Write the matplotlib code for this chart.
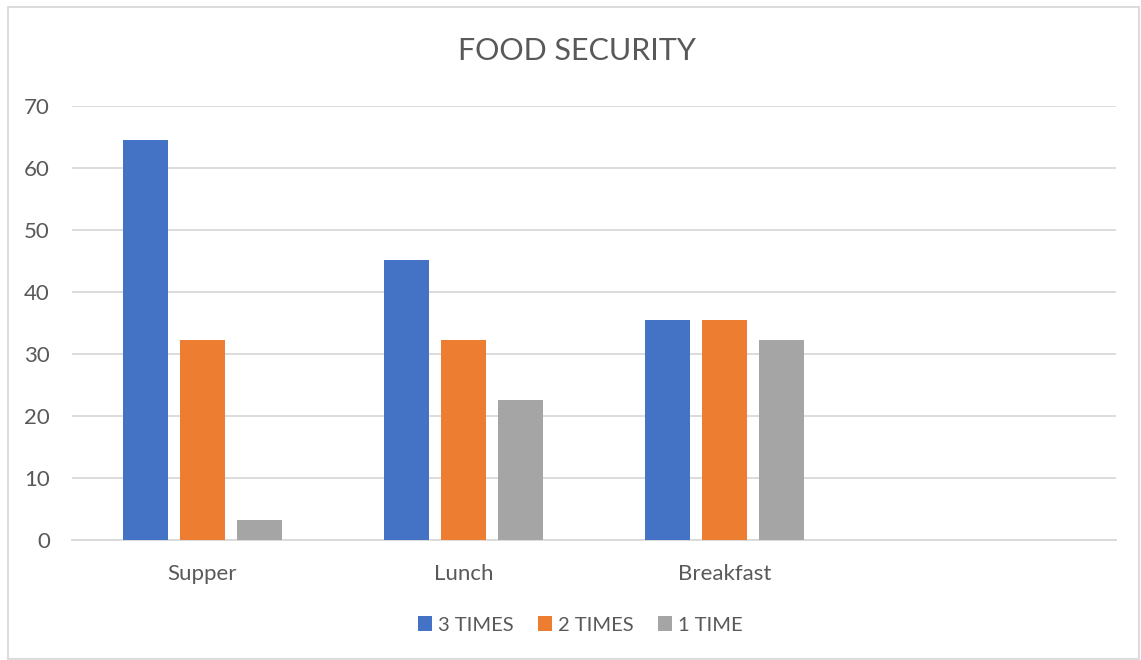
import matplotlib
matplotlib.use("Agg")
import matplotlib.pyplot as plt
from matplotlib.patches import Rectangle
import numpy as np

categories = ["Supper", "Lunch", "Breakfast", ""]
series_names = ["3 TIMES", "2 TIMES", "1 TIME"]
three_times = [64.5, 45.2, 35.5, None]
two_times = [32.3, 32.3, 35.5, None]
one_time = [3.2, 22.6, 32.3, None]
colors = ["#4472C4", "#ED7D31", "#A5A5A5"]
yticks = [0, 10, 20, 30, 40, 50, 60, 70]

plt.rcParams['font.family'] = ['Lato', 'DejaVu Sans']

W, H = 1141, 660
fig = plt.figure(figsize=(W / 100, H / 100), dpi=100)
ax = fig.add_axes([72 / W, 1 - 540 / H, (1116 - 72) / W, (540 - 106) / H])

x = np.arange(len(categories))
width = 45 / 261
offset = 57 / 261
for i, (vals, name, c) in enumerate(zip([three_times, two_times, one_time], series_names, colors)):
    v = [np.nan if a is None else a for a in vals]
    ax.bar(x + (i - 1) * offset, v, width=width, color=c, label=name, zorder=3)

ax.set_xlim(-0.5, len(categories) - 0.5)
ax.set_ylim(0, 70)
ax.set_yticks(yticks)
ax.set_xticks(x)
ax.set_xticklabels(categories)
ax.grid(axis='y', color='#D9D9D9', linewidth=1.3, zorder=0)
for s in ['top', 'right', 'left']:
    ax.spines[s].set_visible(False)
ax.spines['bottom'].set_color('#D9D9D9')
ax.spines['bottom'].set_linewidth(1.3)
ax.tick_params(axis='both', length=0, labelsize=16, labelcolor='#595959')
ax.tick_params(axis='y', pad=16)
ax.tick_params(axis='x', pad=17)

fig.text(577 / W, 1 - 51 / H, "FOOD SECURITY", ha='center', va='center',
         fontsize=22, color='#595959')

leg = fig.legend(loc='center', bbox_to_anchor=(580 / W, 1 - 625 / H), ncol=3,
                 frameon=False, fontsize=14.5, labelcolor='#595959',
                 handlelength=0.7, handleheight=0.7, handletextpad=0.3,
                 columnspacing=1.2)

fig.patches.append(Rectangle((8 / W, 1 - 659 / H), (1139 - 8) / W, (659 - 7) / H,
                             transform=fig.transFigure, fill=False,
                             edgecolor='#D9D9D9', linewidth=1.3))

fig.savefig("out.png", dpi=100)
